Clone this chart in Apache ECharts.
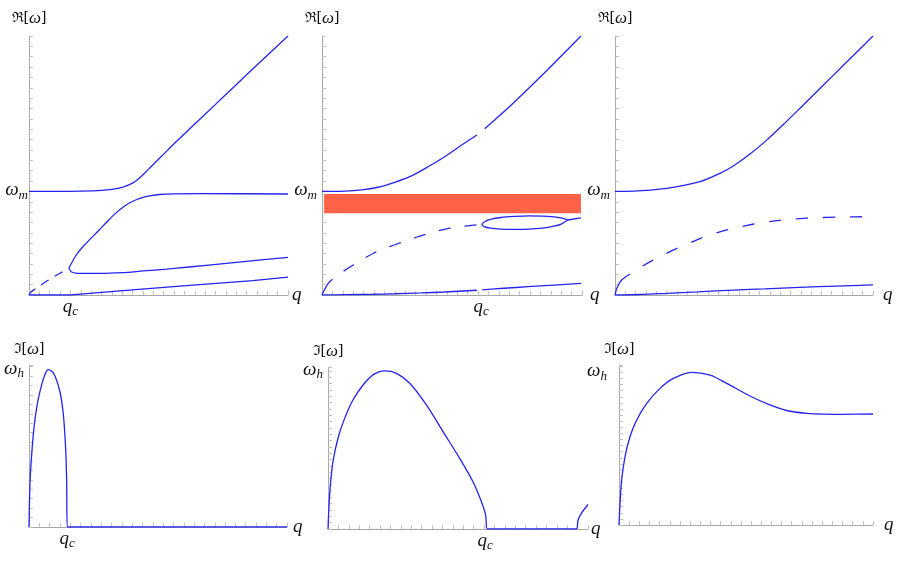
<!DOCTYPE html>
<html>
<head>
<meta charset="utf-8">
<script src="https://cdn.jsdelivr.net/npm/echarts@6/dist/echarts.min.js"></script>
<style>
html, body { margin: 0; padding: 0; background: #fff; }
#chart { width: 900px; height: 562px; }
</style>
</head>
<body>
<div id="chart"></div>
<script>
const SERIF = "'Liberation Serif', 'DejaVu Serif', serif"
const BLUE = '#2424ee'
const AXIS_GREY = '#a8a8a8'
const TICK_GREY = '#c2c2c2'

// reference levels (axis units)
const omegaM = 10
const omegaH = 10
const qcTop = [4.0, 15.3]
const qcBottom = [3.7, 15.1]

// ---- top row: Re[omega] vs q ----
// left panel
const re1Upper = [[0, 10], [3, 10.01], [5, 10.03], [7, 10.1], [8, 10.2], [9, 10.4], [10, 10.8], [10.5, 11.15], [11, 11.6], [11.5, 12.1], [12, 12.6], [13, 13.6], [14, 14.6], [16, 16.5], [18, 18.4], [20, 20.3], [22, 22.2], [25, 25]]
const re1Rising = [[3.85, 2.58], [4.56, 3.86], [5.2, 4.66], [6.8, 6.3], [7.6, 7.15], [8.43, 7.95], [9.1, 8.5], [9.72, 8.9], [10.4, 9.22], [11, 9.43], [11.8, 9.6], [12.6, 9.7], [14, 9.76], [16.5, 9.78], [25, 9.75]]
const re1Branch = [[3.85, 2.58], [4.08, 2.25], [4.5, 2.12], [5, 2.08], [7, 2.08], [9, 2.16], [11, 2.32], [13.3, 2.5], [15.2, 2.68], [20, 3.15], [25, 3.64]]
const re1Dashed = [[0, 0], [0.15, 0.25], [0.4, 0.45], [0.7, 0.65], [1.8, 1.4], [2.9, 2.05], [3.85, 2.58]]
const re1Lowest = [[0, 0], [3.9, 0], [5, 0.09], [8.75, 0.4], [15.2, 0.9], [21.6, 1.38], [25, 1.72]]

// middle panel
const re2UpperA = [[0, 10], [2.2, 10.03], [4, 10.18], [5.4, 10.4], [7.0, 10.88], [8.6, 11.5], [10.2, 12.38], [11.8, 13.35], [13.4, 14.45], [14.9, 15.45]]
const re2UpperB = [[15.65, 16.05], [16.6, 16.9], [18.2, 18.34], [21.4, 21.45], [24.9, 25]]
const re2Start = [[0, 0], [0.22, 0.48], [0.6, 1.13], [1.0, 1.51]]
const re2Dashed = [[1.0, 1.51], [2.0, 2.25], [3.0, 2.9], [4.0, 3.5], [5.0, 4.05], [6.0, 4.5], [7.0, 4.85], [8.0, 5.2], [9.0, 5.55], [10.0, 5.87], [11.0, 6.15], [12.0, 6.38], [13.0, 6.55], [14.0, 6.68], [15.36, 6.82]]
const re2LoopTop = [[15.36, 6.82], [15.6, 7.05], [16.2, 7.3], [17.2, 7.48], [18.5, 7.58], [19.9, 7.63], [21.2, 7.62], [22.3, 7.55], [23.0, 7.44], [23.65, 7.24]]
const re2LoopBottom = [[15.36, 6.82], [15.6, 6.6], [16.2, 6.45], [17.2, 6.36], [18.5, 6.33], [19.9, 6.35], [21.2, 6.45], [22.3, 6.64], [23.0, 6.85], [23.65, 7.24]]
const re2Tail = [[23.65, 7.24], [24.9, 7.45]]
const re2LowestA = [[0, 0], [2.2, 0.03], [5, 0.07], [7.0, 0.12], [9.5, 0.2], [11.8, 0.29], [14.9, 0.46]]
const re2LowestB = [[15.4, 0.5], [17.5, 0.65], [19.8, 0.8], [22.3, 0.96], [24.9, 1.13]]
const re2Band = [[0.2, 9.75], [24.9, 7.9]]

// right panel
const re3Upper = [[0, 10], [1.8, 10.02], [5.0, 10.3], [8.24, 10.94], [10.17, 11.74], [11.46, 12.45], [13.08, 13.6], [14.7, 14.95], [16.31, 16.45], [17.93, 18.03], [19.54, 19.62], [21.15, 21.2], [22.77, 22.8], [25, 25]]
const re3Start = [[0, 0], [0.23, 0.8], [0.65, 1.45], [1.45, 2.03]]
const re3Dashed = [[1.45, 2.03], [2.6, 2.75], [3.55, 3.3], [4.85, 3.95], [6.1, 4.55], [7.4, 5.1], [8.9, 5.7], [10, 6.05], [11.3, 6.4], [12.7, 6.7], [14, 6.95], [15.3, 7.13], [16.6, 7.28], [17.9, 7.38], [19.2, 7.45], [22, 7.53], [25, 7.56]]
const re3Lowest = [[0, 0], [2.5, 0.05], [5, 0.16], [8, 0.3], [11.5, 0.48], [14.5, 0.6], [17.9, 0.74], [21.5, 0.86], [25, 0.97]]

// ---- bottom row: Im[omega] vs q ----
const im1 = [[0, 0], [0.1, 2.9], [0.26, 4.6], [0.48, 6.3], [0.8, 7.8], [1.23, 9.05], [1.55, 9.7], [1.87, 10], [2.2, 9.9], [2.52, 9.6], [3.0, 8.6], [3.33, 7.14], [3.55, 5.0], [3.65, 2.9], [3.71, 0], [25, 0]]
const im2 = [[0, 0], [0.1, 1.52], [0.23, 2.78], [0.48, 4.26], [0.96, 5.74], [1.6, 7.0], [2.4, 8.16], [3.37, 9.11], [4.33, 9.75], [5.45, 10], [6.58, 9.85], [7.86, 9.22], [9.46, 7.85], [11.06, 6.16], [12.66, 4.47], [13.94, 2.99], [14.75, 1.73], [15.16, 0.89], [15.33, 0], [23.88, 0], [24.04, 0.57], [24.36, 0.99], [25, 1.55]]
const im3 = [[0, 0], [0.1, 1.42], [0.26, 2.95], [0.59, 4.47], [1.08, 5.78], [1.74, 6.88], [2.73, 7.97], [4.04, 8.95], [5.35, 9.6], [7.16, 10.0], [8.97, 9.82], [10.6, 9.28], [12.6, 8.55], [14.55, 7.95], [16.5, 7.5], [18.5, 7.31], [20, 7.26], [22, 7.25], [25, 7.27]]

// panel frames [left, top, width, height]
const frames = [
  [29, 36, 259, 259], [322, 36, 260, 259], [615, 36, 258, 259],
  [29, 365, 258, 162], [328, 367, 260, 162], [619, 365, 254, 160]
]
const yMax = [25, 25, 25, 10.3, 10.25, 10.48]
const yStep = [1, 1, 1, 0.6, 0.4, 0.4]
const yLabelGap = [1, 5, 5, 5, 5, 12]
const qNameGap = [4, 8, 10, 6, 3, 11]

const subRich = {
  w: { fontFamily: SERIF, fontStyle: 'italic', fontSize: 19, verticalAlign: 'top', color: '#111' },
  s: { fontFamily: SERIF, fontStyle: 'italic', fontSize: 13, padding: [8, 0, 0, 0], verticalAlign: 'bottom', color: '#111' }
}
const nameRich = {
  r: { fontFamily: "'DejaVu Serif', serif", fontSize: 14, color: '#111' },
  w: { fontFamily: SERIF, fontStyle: 'italic', fontSize: 17, color: '#111' }
}

const grids = frames.map(f => ({ left: f[0], top: f[1], width: f[2], height: f[3] }))

const xAxes = frames.map((f, i) => {
  const qc = i < 3 ? qcTop[i] : qcBottom[i - 3]
  return {
    type: 'value',
    gridIndex: i,
    min: 0,
    max: 25,
    interval: 1,
    name: 'q',
    nameLocation: 'end',
    nameGap: qNameGap[i],
    nameTextStyle: { fontFamily: SERIF, fontStyle: 'italic', fontSize: 19, color: '#111' },
    axisLine: { onZero: false, lineStyle: { color: AXIS_GREY, width: 1 } },
    axisTick: { show: true, inside: true, length: 4, lineStyle: { color: TICK_GREY } },
    axisLabel: qc === undefined ? { show: false } : {
      show: true,
      customValues: [qc],
      margin: 2,
      formatter: () => '{w|q}{s|c}',
      rich: subRich
    },
    splitLine: { show: false }
  }
})

const yAxes = frames.map((f, i) => ({
  type: 'value',
  gridIndex: i,
  min: 0,
  max: yMax[i],
  interval: yStep[i],
  name: i < 3 ? '{r|ℜ[}{w|ω}{r|]}' : '{r|ℑ[}{w|ω}{r|]}',
  nameLocation: 'end',
  nameGap: i < 3 ? 9 : 7,
  nameTextStyle: { rich: nameRich },
  axisLine: { onZero: false, lineStyle: { color: AXIS_GREY, width: 1 } },
  axisTick: { show: true, inside: true, length: 4, lineStyle: { color: TICK_GREY } },
  axisLabel: {
    show: true,
    customValues: [i < 3 ? omegaM : omegaH],
    margin: yLabelGap[i],
    formatter: () => (i < 3 ? '{w|ω}{s|m}' : '{w|ω}{s|h}'),
    rich: subRich
  },
  splitLine: { show: false }
}))

function curve(idx, data, extra) {
  return Object.assign({
    type: 'line',
    xAxisIndex: idx,
    yAxisIndex: idx,
    data: data,
    symbol: 'none',
    smooth: 0.3,
    silent: true,
    lineStyle: { color: BLUE, width: 1.3 }
  }, extra || {})
}
function dashed(idx, data, pattern, offset) {
  return curve(idx, data, { lineStyle: { color: BLUE, width: 1.3, type: pattern, dashOffset: offset || 0 } })
}

const series = [
  curve(0, re1Upper), curve(0, re1Rising), curve(0, re1Branch),
  dashed(0, re1Dashed, [9, 7]), curve(0, re1Lowest, { smooth: false }),

  curve(1, re2UpperA, {
    markArea: {
      silent: true,
      itemStyle: { color: '#ff6347', opacity: 1 },
      data: [[{ coord: re2Band[0] }, { coord: re2Band[1] }]]
    }
  }),
  curve(1, re2UpperB), curve(1, re2Start), dashed(1, re2Dashed, [12, 14], 12),
  curve(1, re2LoopTop), curve(1, re2LoopBottom), curve(1, re2Tail),
  curve(1, re2LowestA), curve(1, re2LowestB),

  curve(2, re3Upper), curve(2, re3Start), dashed(2, re3Dashed, [12, 15], 12), curve(2, re3Lowest),

  curve(3, im1), curve(4, im2), curve(5, im3)
]

const chart = echarts.init(document.getElementById('chart'), null, { renderer: 'canvas' })
chart.setOption({
  animation: false,
  backgroundColor: '#fff',
  grid: grids,
  xAxis: xAxes,
  yAxis: yAxes,
  series: series
})
</script>
</body>
</html>
